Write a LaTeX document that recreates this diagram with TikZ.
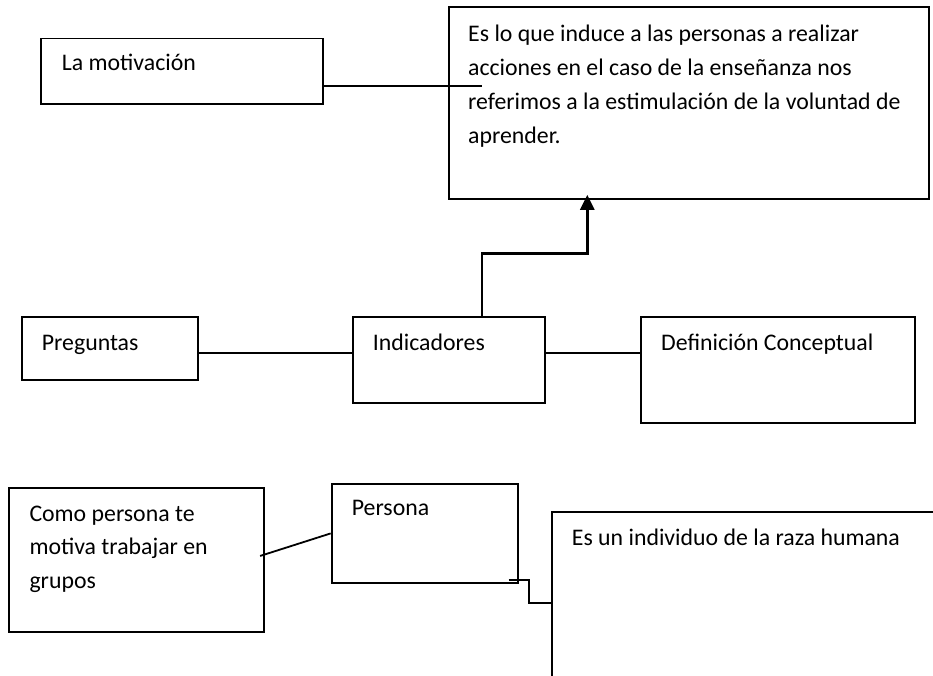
\documentclass[tikz,border=0pt]{standalone}
\usepackage{fontspec}
\setmainfont{Carlito}
\usetikzlibrary{positioning,arrows.meta}

\tikzset{
  caja/.style={draw, line width=1.8pt, anchor=north west, inner sep=0pt},
  texto/.style={anchor=base west, inner sep=0pt, align=flush left, text width=#1,
    font=\fontsize{23.8pt}{33.8pt}\selectfont},
  texto/.default=460pt,
  enlace/.style={line width=1.8pt},
  flecha/.style={line width=2.8pt, -{Triangle[length=15pt,width=14pt]}},
}

\begin{document}
\begin{tikzpicture}[x=1pt, y=-1pt]
\clip (0,0) rectangle (933,676);

%Boxes
\node[caja, minimum width=282pt, minimum height=65.3pt]    (mot)   at (40,37.7)    {};
\node[caja, minimum width=480pt, minimum height=192.5pt]   (def1)  at (448,6)      {};
\node[caja, minimum width=176pt, minimum height=63.3pt]    (preg)  at (20.7,315.7) {};
\node[caja, minimum width=192.3pt, minimum height=86pt]    (ind)   at (351.7,315.7) {};
\node[caja, minimum width=274pt, minimum height=106pt]     (def2)  at (640,315.7)  {};
\node[caja, minimum width=255pt, minimum height=144.3pt]   (como)  at (8.3,486.7)  {};
\node[caja, minimum width=186pt, minimum height=99.6pt]    (per)   at (330.7,482.7) {};
\node[caja, minimum width=420pt, minimum height=220pt]     (indiv) at (551,511)    {};

%Texts
\node[texto]    (motT)   at (61.7,71)    {La motivación};
\node[texto]    (def1T)  at (468,42)     {Es lo que induce a las personas a realizar\\
  acciones en el caso de la enseñanza nos\\
  referimos a la estimulación de la voluntad de\\
  aprender.};
\node[texto]    (pregT)  at (41.7,350.7) {Preguntas};
\node[texto]    (indT)   at (372.7,350.7) {Indicadores};
\node[texto]    (def2T)  at (661,350.7)  {Definición Conceptual};
\node[texto]    (comoT)  at (29.3,521)   {Como persona te\\motiva trabajar en\\grupos};
\node[texto]    (perT)   at (351.7,515.7) {Persona};
\node[texto]    (indivT) at (571.7,545)  {Es un individuo de la raza humana};

%Lines
\coordinate (motfin)  at (482,85.7);
\coordinate (codo)    at (587.3,253.3);
\coordinate (quiebre) at (529.3,602.7);
\draw[enlace]   (mot.east |- motfin) -- (motfin);
\draw[enlace]   ([yshift=-4.4pt]preg.east) -- ([yshift=-4.4pt]preg.east -| ind.west);
\draw[enlace]   ([yshift=-4.4pt]preg.east -| ind.east) -- ([yshift=-4.4pt]preg.east -| def2.west);
\draw[flecha]   ([xshift=33.2pt]ind.north) |- (codo)
    -- ([yshift=5.5pt]codo |- def1.south);
\draw[enlace]   ([shift={(-5pt,3.8pt)}]como.east) -- (per.west);
\draw[enlace]   ([shift={(-10pt,4pt)}]per.south east) -| (quiebre)
    -- (quiebre -| indiv.west);
\end{tikzpicture}
\end{document}
